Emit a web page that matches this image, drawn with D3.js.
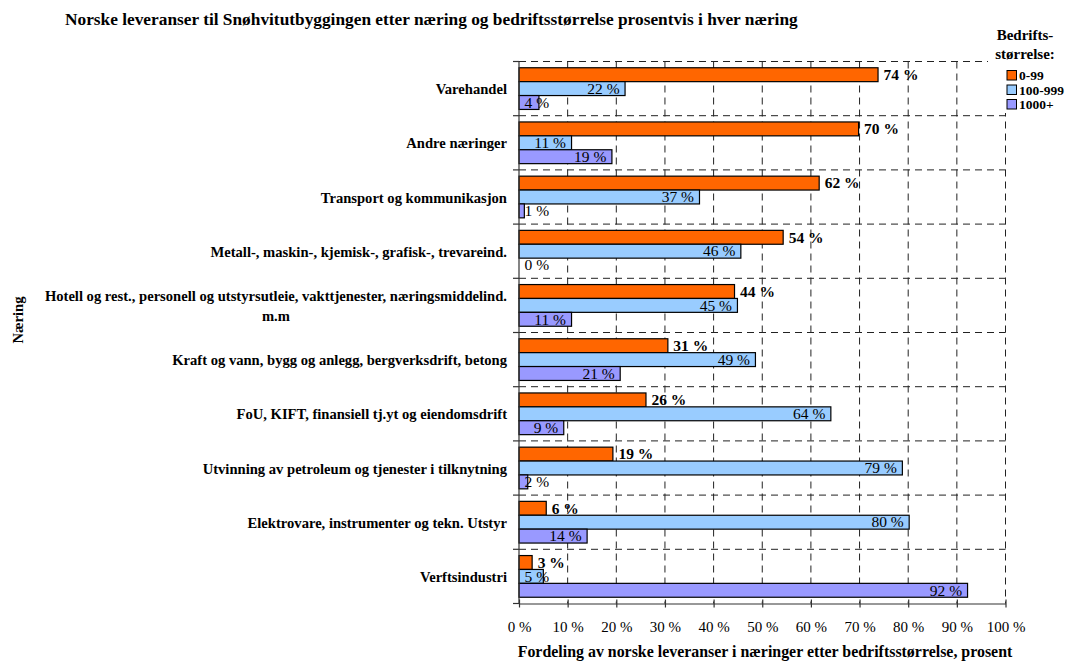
<!DOCTYPE html>
<html>
<head>
<meta charset="utf-8">
<script src="https://cdn.jsdelivr.net/npm/d3@7"></script>
<style>
  html, body { margin: 0; padding: 0; background: #fff; }
  svg { display: block; }
  text { font-family: "Liberation Serif", "Times New Roman", serif; fill: #000; }
</style>
</head>
<body>
<svg id="chart" width="1074" height="662"></svg>
<script>
// ---------- data ----------
const categories = [
  "Varehandel",
  "Andre næringer",
  "Transport og kommunikasjon",
  "Metall-, maskin-, kjemisk-, grafisk-, trevareind.",
  "Hotell og rest., personell og utstyrsutleie, vakttjenester, næringsmiddelind. m.m",
  "Kraft og vann, bygg og anlegg, bergverksdrift, betong",
  "FoU, KIFT, finansiell tj.yt og eiendomsdrift",
  "Utvinning av petroleum og tjenester i tilknytning",
  "Elektrovare, instrumenter og tekn. Utstyr",
  "Verftsindustri"
];
const seriesNames = ["0-99", "100-999", "1000+"];
const values0to99   = [73.8, 69.8, 61.7, 54.3, 44.3, 30.6, 26.1, 19.3, 5.6, 2.7];
const values100to999 = [21.8, 10.8, 37.1, 45.6, 44.9, 48.6, 64.1, 78.8, 80.2, 5.0];
const values1000plus = [4.1, 19.1, 1.1, 0.0, 10.8, 20.8, 9.2, 1.8, 14.0, 92.2];
const xTicks = [0, 10, 20, 30, 40, 50, 60, 70, 80, 90, 100];
const titleText = "Norske leveranser til Snøhvitutbyggingen etter næring og bedriftsstørrelse prosentvis i hver næring";
const xAxisTitle = "Fordeling av norske leveranser i næringer etter bedriftsstørrelse, prosent";
const yAxisTitle = "Næring";
const legendTitle = ["Bedrifts-", "størrelse:"];
const colors = ["#FF6600", "#99CCFF", "#9999FF"];

const seriesValues = [values0to99, values100to999, values1000plus];

// ---------- layout ----------
const svg = d3.select("#chart");
const plot = { left: 519, right: 1005.5, top: 61.5, bottom: 603.5 };
const gridColor = "#222";

const x = d3.scaleLinear().domain([0, 100]).range([plot.left, plot.right]);
const y = d3.scaleBand().domain(categories).range([plot.top, plot.bottom]).padding(0);
const yInner = d3.scaleBand().domain(seriesNames).range([0, y.bandwidth()])
  .paddingInner(0).paddingOuter(0.45);

function fitWidth(sel, target) {
  const node = sel.node();
  const fs = parseFloat(sel.attr("font-size"));
  const w = node.getComputedTextLength();
  sel.attr("font-size", (fs * target / w).toFixed(2));
}

// ---------- title ----------
const title = svg.append("text")
  .attr("x", 65).attr("y", 25)
  .attr("font-size", 15).attr("font-weight", "bold")
  .text(titleText);
fitWidth(title, 733);

// ---------- gridlines ----------
const grid = svg.append("g");
grid.selectAll("line.v").data(xTicks.filter(d => d > 0)).join("line")
  .attr("x1", d => x(d)).attr("x2", d => x(d))
  .attr("y1", plot.top).attr("y2", plot.bottom)
  .attr("stroke", gridColor).attr("stroke-width", 1)
  .attr("stroke-dasharray", "7,5");
const bounds = categories.map(c => y(c));
grid.selectAll("line.h").data(bounds).join("line")
  .attr("x1", plot.left).attr("x2", plot.right)
  .attr("y1", d => d).attr("y2", d => d)
  .attr("stroke", gridColor).attr("stroke-width", 1)
  .attr("stroke-dasharray", "7,5");

// ---------- bars ----------
const rows = categories.map((c, i) => ({
  cat: c,
  vals: seriesNames.map((s, j) => ({ cat: c, s, j, v: seriesValues[j][i] }))
}));
const groups = svg.append("g").selectAll("g").data(rows).join("g")
  .attr("transform", d => `translate(0,${y(d.cat)})`);
groups.selectAll("rect").data(d => d.vals).join("rect")
  .attr("x", x(0))
  .attr("y", d => yInner(d.s))
  .attr("width", d => x(d.v) - x(0))
  .attr("height", yInner.bandwidth())
  .attr("fill", d => colors[d.j])
  .attr("stroke", "#000").attr("stroke-width", 1.2);

// ---------- bar labels ----------
const fmt = v => d3.format(".0f")(v) + " %";
const labelSize = 15.5;
groups.selectAll("text").data(d => d.vals).join("text")
  .attr("font-size", labelSize)
  .attr("font-weight", d => d.j === 0 ? "bold" : "normal")
  .attr("y", d => yInner(d.s) + yInner.bandwidth() / 2 + labelSize * 0.34)
  .text(d => fmt(d.v))
  .each(function(d) {
    const t = d3.select(this);
    const w = this.getComputedTextLength();
    const end = x(d.v);
    if (d.j === 0) {
      t.attr("x", end + 5.5);
    } else {
      t.attr("x", Math.max(x(0) + 5.5, end - 5.5 - w));
    }
  });

// ---------- axes ----------
svg.append("line")
  .attr("x1", plot.left).attr("x2", plot.left)
  .attr("y1", plot.top).attr("y2", plot.bottom)
  .attr("stroke", "#333").attr("stroke-width", 1.2);
svg.append("g").selectAll("line").data(bounds.concat([plot.bottom])).join("line")
  .attr("x1", plot.left - 6).attr("x2", plot.left)
  .attr("y1", d => d).attr("y2", d => d)
  .attr("stroke", "#333").attr("stroke-width", 1.2);

const xAxis = d3.axisBottom(x).tickValues(xTicks).tickSize(0).tickFormat(d => d + " %");
const gx = svg.append("g").attr("transform", `translate(0,${plot.bottom})`).call(xAxis);
gx.select(".domain").attr("stroke", "#333").attr("stroke-width", 1.2);
gx.selectAll(".tick text")
  .attr("font-family", "Liberation Serif, Times New Roman, serif")
  .attr("font-size", 15).attr("fill", "#000").attr("dy", null).attr("y", 28);
gx.selectAll(".tick").append("line")
  .attr("y1", -4).attr("y2", 4).attr("stroke", "#333").attr("stroke-width", 1.2);

// category labels (wrapped when too long, lines centered, block right-aligned)
const catSize = 14.6;
const maxLabelW = 485;
const catG = svg.append("g");
categories.forEach(c => {
  const tmp = catG.append("text").attr("font-size", catSize).attr("font-weight", "bold");
  const words = c.split(" ");
  const lines = [];
  let line = [];
  words.forEach(wd => {
    line.push(wd);
    tmp.text(line.join(" "));
    if (tmp.node().getComputedTextLength() > maxLabelW && line.length > 1) {
      line.pop();
      lines.push(line.join(" "));
      line = [wd];
    }
  });
  lines.push(line.join(" "));
  const widths = lines.map(l => { tmp.text(l); return tmp.node().getComputedTextLength(); });
  tmp.remove();
  const blockW = d3.max(widths);
  const cx = 507 - blockW / 2;
  const lh = 20;
  const cy = y(c) + y.bandwidth() / 2;
  lines.forEach((l, i) => {
    catG.append("text")
      .attr("font-size", catSize).attr("font-weight", "bold")
      .attr("text-anchor", "middle")
      .attr("x", cx)
      .attr("y", cy + 5.5 + (i - (lines.length - 1) / 2) * lh)
      .text(l);
  });
});

// axis titles
const xt = svg.append("text")
  .attr("x", 765).attr("y", 657)
  .attr("text-anchor", "middle")
  .attr("font-size", 15).attr("font-weight", "bold")
  .text(xAxisTitle);
fitWidth(xt, 495);

svg.append("text")
  .attr("transform", "translate(23,320) rotate(-90)")
  .attr("text-anchor", "middle")
  .attr("font-size", catSize).attr("font-weight", "bold")
  .text(yAxisTitle);

// ---------- legend ----------
svg.append("rect").attr("x", 988).attr("y", 20).attr("width", 86).attr("height", 93).attr("fill", "#fff");
const lg = svg.append("g");
lg.selectAll("text.lt").data(legendTitle).join("text")
  .attr("x", 1025).attr("y", (d, i) => 40 + i * 19)
  .attr("text-anchor", "middle")
  .attr("font-size", 15).attr("font-weight", "bold")
  .text(d => d);
const items = lg.selectAll("g.item").data(seriesNames).join("g")
  .attr("transform", (d, i) => `translate(1007,${70.5 + i * 14.5})`);
items.append("rect")
  .attr("width", 9.5).attr("height", 9.5)
  .attr("fill", (d, i) => colors[i])
  .attr("stroke", "#000").attr("stroke-width", 1);
items.append("text")
  .attr("x", 12).attr("y", 9.5)
  .attr("font-size", 13.5).attr("font-weight", "bold")
  .text(d => d);
</script>
</body>
</html>
